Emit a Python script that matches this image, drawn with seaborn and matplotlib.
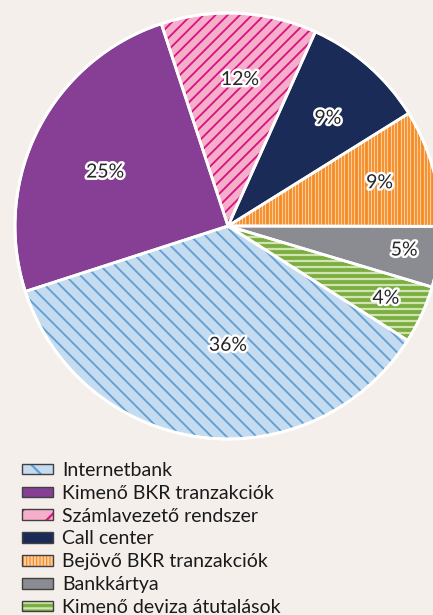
import numpy as np
import matplotlib
matplotlib.use("Agg")
import matplotlib.pyplot as plt
import matplotlib.patheffects as pe
from matplotlib.patches import Wedge, Patch
from matplotlib.collections import LineCollection
from matplotlib.legend_handler import HandlerTuple
import seaborn as sns

sns.set_style("white")
plt.rcParams['font.family'] = ['Lato', 'DejaVu Sans']

# ---- data ----
categories = ["Internetbank", "Kimenő BKR tranzakciók", "Számlavezető rendszer",
              "Call center", "Bejövő BKR tranzakciók", "Bankkártya",
              "Kimenő deviza átutalások"]
values = [36.0, 24.9, 11.8, 9.4, 8.9, 4.6, 4.4]

# ---- style ----
base_colors = ["#C5DBEF", "#873F96", "#F5AFCB", "#1A2B57", "#F6891F", "#8B8C91", "#7BAE40"]
hatch_colors = ["#62A0D4", None, "#DA1480", None, "#FCCB9C", None, "#CFE4B0"]
# pattern: angle (deg), perpendicular spacing (px), line width (pt)
pat_angle = [-45, None, 45, None, 90, None, 0]
pat_space = [10.6, None, 8.6, None, 3.3, None, 6.0]
pat_lw = [1.35, None, 1.35, None, 0.95, None, 1.6]
leg_hatch = ["\\", None, "/", None, "|||||", None, "---"]
leg_hlw = [1.2, 0, 1.2, 0, 1.0, 0, 1.6]
label_dist = [0.56, 0.63, 0.69, 0.69, 0.74, 0.835, 0.815]
label_turn = [7.3, 3.2, -1.7, -1.7, 0.0, 0.6, 0.0]
bg = "#F5EFEC"

W, H = 433, 615
cx, cy, R = 228, 226, 213
fig = plt.figure(figsize=(W / 100, H / 100), dpi=100, facecolor=bg)
ax = fig.add_axes([0, 0, 1, 1])
ax.set_facecolor(bg)
ax.set_axis_off()

wedges, texts = ax.pie(values, colors=base_colors, startangle=-32.5, counterclock=False,
                       radius=1, center=(0, 0), wedgeprops=dict(linewidth=0))
ax.set_xlim(-cx / R, (W - cx) / R)
ax.set_ylim((cy - H) / R, cy / R)
ax.set_aspect('auto')

# pattern lines clipped to wedges
for i, w in enumerate(wedges):
    if pat_angle[i] is None:
        continue
    a = np.deg2rad(pat_angle[i])
    d = np.array([np.cos(a), np.sin(a)])
    n = np.array([-np.sin(a), np.cos(a)])
    sp = pat_space[i] / R
    offs = np.arange(-1.6, 1.6, sp)
    segs = [[o * n - 2 * d, o * n + 2 * d] for o in offs]
    lc = LineCollection(segs, colors=hatch_colors[i], linewidths=pat_lw[i],
                        zorder=w.get_zorder() + 0.1)
    ax.add_collection(lc)
    lc.set_clip_path(w)

for w in wedges:
    ax.add_patch(Wedge((0, 0), 1, w.theta1, w.theta2, fill=False, edgecolor='white',
                       linewidth=2.0, zorder=w.get_zorder() + 0.2))
ax.add_patch(Wedge((0, 0), 1.0, 0, 360, fill=False, edgecolor='white', linewidth=2.0,
                   zorder=5))

# percentage labels
for i, w in enumerate(wedges):
    mid = np.deg2rad((w.theta1 + w.theta2) / 2 + label_turn[i])
    dd = label_dist[i]
    t = ax.text(dd * np.cos(mid), dd * np.sin(mid), f"{values[i]:.0f}%", ha='center',
                va='center', fontsize=14, color='#262626', zorder=10)
    t.set_path_effects([pe.withStroke(linewidth=3.5, foreground='white')])

# legend
handles = []
for i in range(len(categories)):
    parts = [Patch(facecolor=base_colors[i], edgecolor='none', linewidth=0)]
    if leg_hatch[i]:
        plt.rcParams['hatch.linewidth'] = leg_hlw[i]
        hp = Patch(fill=False, hatch=leg_hatch[i], edgecolor=hatch_colors[i], linewidth=0)
        if hasattr(hp, 'set_hatch_linewidth'):
            hp.set_hatch_linewidth(leg_hlw[i])
        parts.append(hp)
    parts.append(Patch(fill=False, edgecolor='#404040', linewidth=1.0))
    handles.append(tuple(parts))

leg = fig.legend(handles, categories, handler_map={tuple: HandlerTuple(ndivide=1, pad=0)},
                 loc='upper left', bbox_to_anchor=(22 / W, 1 - 462 / H),
                 bbox_transform=fig.transFigure, frameon=False, fontsize=14,
                 handlelength=1.6, handleheight=0.46, handletextpad=0.46,
                 labelspacing=0.30, borderaxespad=0, borderpad=0)
for t in leg.get_texts():
    t.set_color('#1a1a1a')

fig.savefig("out.png", dpi=100, facecolor=bg)
